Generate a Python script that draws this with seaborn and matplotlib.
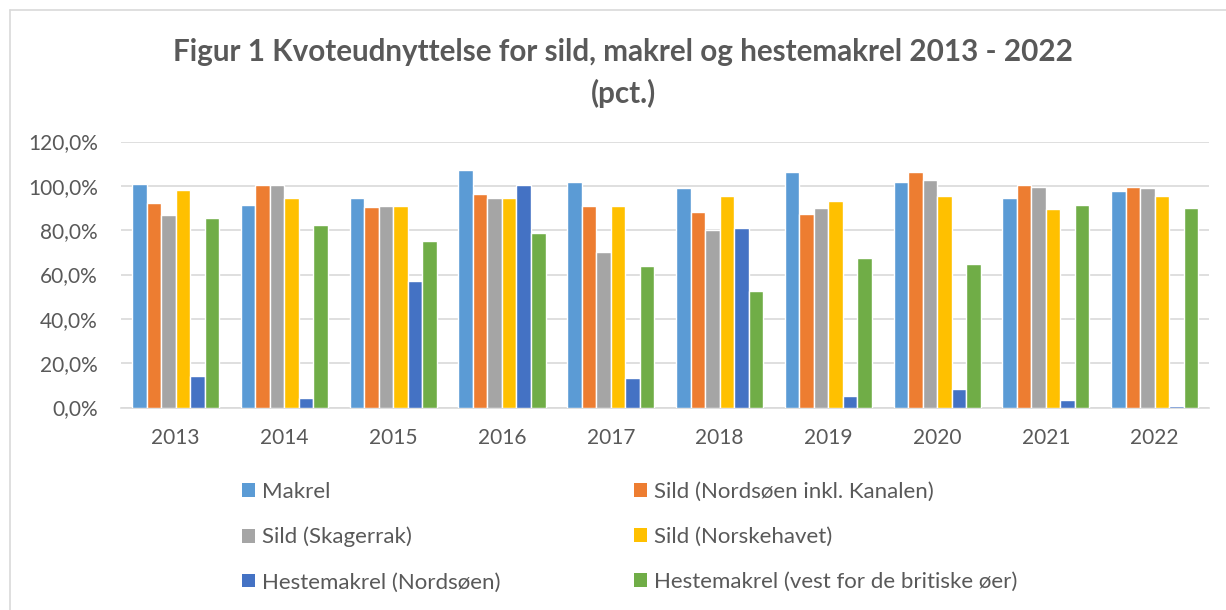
import matplotlib
matplotlib.use("Agg")
import matplotlib.pyplot as plt
from matplotlib.patches import Patch
from matplotlib.lines import Line2D
import pandas as pd
import seaborn as sns

years = ["2013", "2014", "2015", "2016", "2017", "2018", "2019", "2020", "2021", "2022"]

series_names = [
    "Makrel",
    "Sild (Nordsøen inkl. Kanalen)",
    "Sild (Skagerrak)",
    "Sild (Norskehavet)",
    "Hestemakrel (Nordsøen)",
    "Hestemakrel (vest for de britiske øer)",
]

# Quota utilisation in percent, one list per stock
makrel = [100.7, 91.2, 94.3, 107.0, 101.9, 99.1, 106.2, 101.6, 94.3, 97.5]
sild_nordsoen = [92.2, 100.2, 90.3, 96.3, 90.9, 88.0, 87.1, 106.2, 100.4, 99.6]
sild_skagerrak = [86.8, 100.4, 90.9, 94.6, 70.1, 79.9, 90.0, 102.8, 99.6, 99.1]
sild_norskehavet = [98.1, 94.6, 90.9, 94.6, 90.9, 95.5, 93.0, 95.5, 89.7, 95.5]
hestemakrel_nordsoen = [14.3, 4.2, 57.0, 100.2, 13.1, 80.8, 5.0, 8.4, 3.3, 0.7]
hestemakrel_vest = [85.3, 82.2, 75.1, 78.7, 63.7, 52.6, 67.4, 64.8, 91.2, 90.0]

colors = ["#5B9BD5", "#ED7D31", "#A5A5A5", "#FFC000", "#4472C4", "#70AD47"]

y_ticks = [0, 20, 40, 60, 80, 100, 120]
y_tick_labels = ["0,0%", "20,0%", "40,0%", "60,0%", "80,0%", "100,0%", "120,0%"]

title_line1 = "Figur 1 Kvoteudnyttelse for sild, makrel og hestemakrel 2013 - 2022"
title_line2 = "(pct.)"

all_series = [makrel, sild_nordsoen, sild_skagerrak, sild_norskehavet,
              hestemakrel_nordsoen, hestemakrel_vest]
rows = []
for name, values in zip(series_names, all_series):
    for year, v in zip(years, values):
        rows.append({"year": year, "series": name, "value": v})
df = pd.DataFrame(rows)

sns.set_style("white")
plt.rcParams["font.family"] = ["Lato", "DejaVu Sans"]

text_color = "#595959"
grid_color = "#D9D9D9"

W, H = 1226, 610
fig = plt.figure(figsize=(W / 100, H / 100), dpi=100)
ax = fig.add_axes([121.3 / W, 1 - 407.5 / H, (1209 - 121.3) / W, (407.5 - 141.5) / H])

sns.barplot(data=df, x="year", y="value", hue="series", hue_order=series_names,
            order=years, palette=colors, saturation=1, width=0.8,
            legend=False, ax=ax, errorbar=None, zorder=3)

ax.set_ylim(0, 120)
ax.set_xlim(-0.5, len(years) - 0.5)
ax.set_yticks(y_ticks)
ax.set_yticklabels(y_tick_labels)
ax.set_xlabel("")
ax.set_ylabel("")
ax.yaxis.grid(True, color=grid_color, linewidth=1.2, zorder=0)
ax.xaxis.grid(False)
ax.set_axisbelow(True)
for side in ["top", "right", "left"]:
    ax.spines[side].set_visible(False)
ax.spines["bottom"].set_color(grid_color)
ax.spines["bottom"].set_linewidth(1.2)
ax.tick_params(axis="both", length=0, labelsize=15, colors=text_color)
ax.tick_params(axis="y", pad=17)
ax.tick_params(axis="x", pad=15)

# Title in two lines
fig.text(623 / W, 1 - 52 / H, title_line1, ha="center", va="center",
         fontsize=21.3, fontweight="bold", color=text_color)
fig.text(623 / W, 1 - 93 / H, title_line2, ha="center", va="center",
         fontsize=21.3, fontweight="bold", color=text_color)

# Legend split into two columns
handles = [Patch(facecolor=c, edgecolor="none") for c in colors]
col1 = [0, 2, 4]
col2 = [1, 3, 5]
legend_kw = dict(loc="upper left", frameon=False, fontsize=16, borderpad=0,
                 borderaxespad=0, handlelength=0.58, handleheight=0.58,
                 handletextpad=0.3, labelspacing=1.12, labelcolor=text_color)
leg1 = fig.legend([handles[i] for i in col1], [series_names[i] for i in col1],
                  bbox_to_anchor=(242 / W, 1 - 482 / H), **legend_kw)
leg2 = fig.legend([handles[i] for i in col2], [series_names[i] for i in col2],
                  bbox_to_anchor=(634 / W, 1 - 482 / H), **legend_kw)

# Chart frame edges along the top and left
fig.add_artist(Line2D([10 / W, 1], [1 - 10 / H, 1 - 10 / H], color=grid_color,
                      linewidth=1.2, transform=fig.transFigure))
fig.add_artist(Line2D([10 / W, 10 / W], [0, 1 - 10 / H], color=grid_color,
                      linewidth=1.2, transform=fig.transFigure))

fig.savefig("out.png", dpi=100, facecolor="white")
